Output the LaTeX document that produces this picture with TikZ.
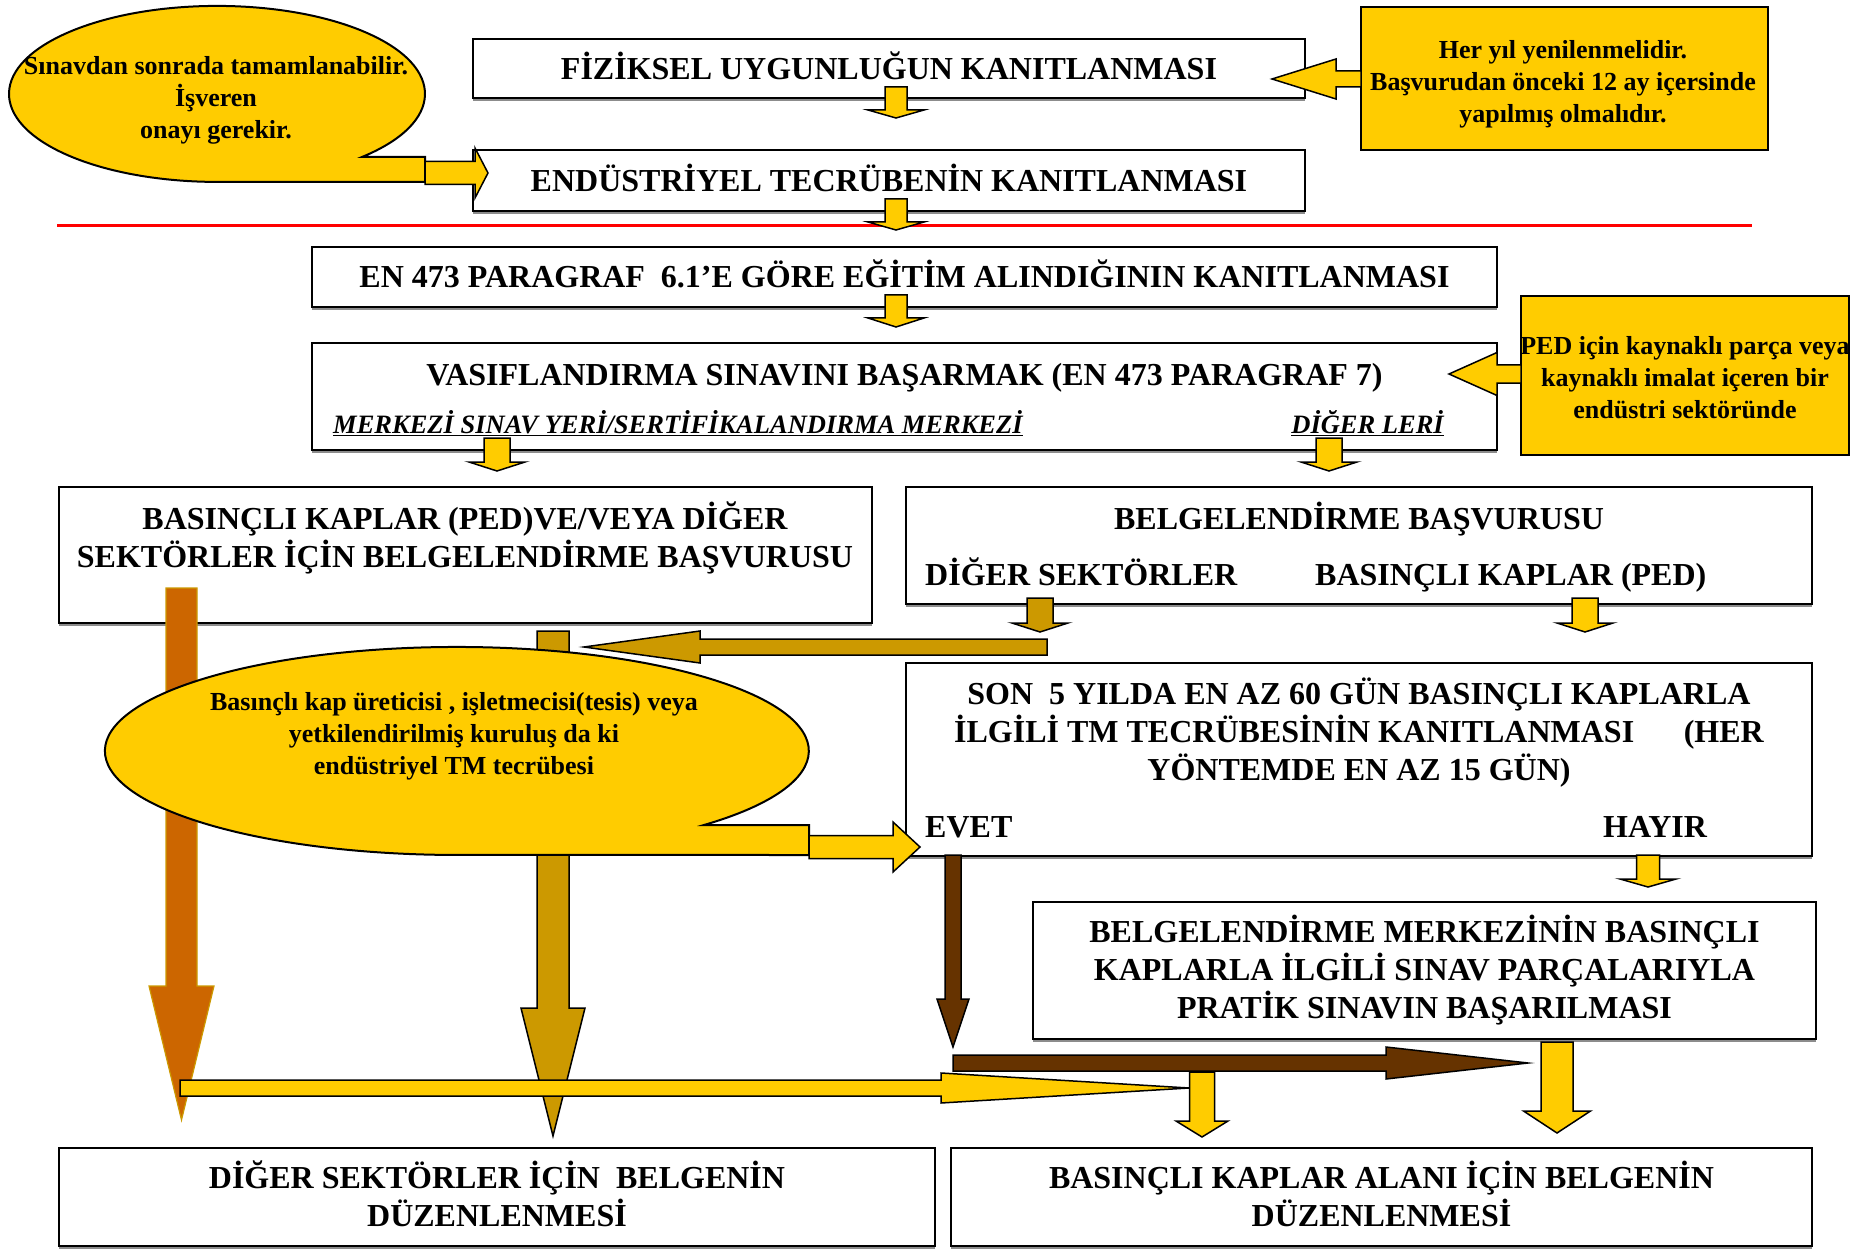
\documentclass[tikz,border=0pt]{standalone}
\usepackage{fontspec}
\setmainfont{Liberation Serif}
\usetikzlibrary{shadows}
\definecolor{gold}{RGB}{255,204,0}
\definecolor{darkgold}{RGB}{204,153,0}
\definecolor{rust}{RGB}{204,102,0}
\definecolor{darkbrown}{RGB}{102,51,0}
\newcommand{\bigtxt}{\fontsize{32}{38}\selectfont\bfseries}
\newcommand{\smalltxt}{\fontsize{26}{32}\selectfont\bfseries}
\newcommand{\ls}{\rule[-.22em]{0pt}{1.1em}}
\tikzset{pics/barrow/.style n args={5}{code={
  \filldraw[fill=#5] (0,-#1) -- ({#3-#4},-#1) -- ({#3-#4},-#2) -- (#3,0)
    -- ({#3-#4},#2) -- ({#3-#4},#1) -- (0,#1) -- cycle;}}}
\begin{document}
\begin{tikzpicture}[x=1pt,y=-1pt,
    box/.style={draw,line width=2pt,fill=white,inner sep=0pt,align=center,font=\bigtxt,
      drop shadow={shadow xshift=0pt,shadow yshift=-3pt,fill=black!45,opacity=1},
      execute at begin node=\ls,execute at end node=\ls},
    note/.style={draw,line width=2pt,fill=gold,inner sep=0pt},
    lbl/.style={inner sep=0pt,align=center,font=\bigtxt,
      execute at begin node=\ls,execute at end node=\ls},
    smlbl/.style={lbl,font=\smalltxt},
    sublbl/.style={inner sep=0pt,font=\fontsize{26.5}{31}\selectfont\bfseries\itshape,
      execute at begin node=\ls,execute at end node=\ls},
    cloud/.style={draw,line width=2pt,fill=gold},
    blk/.style={line width=1.5pt,line join=miter}]
  \useasboundingbox (0,0) rectangle (1856,1249);
  \draw[red,line width=3pt] (57,226) -- (1752,226);

  \node[box,minimum width=832pt,minimum height=59pt] (fiz) at (889,68.5) {FİZİKSEL UYGUNLUĞUN KANITLANMASI};
  \node[box,minimum width=832pt,minimum height=61pt] (endus) at (889,180.5) {ENDÜSTRİYEL TECRÜBENİN KANITLANMASI};
  \node[box,minimum width=1185pt,minimum height=60pt] (en473) at (904.5,277) {EN 473 PARAGRAF\ \ 6.1’E GÖRE EĞİTİM ALINDIĞININ KANITLANMASI};
  \node[box,minimum width=1185pt,minimum height=107pt] (vas) at (904.5,396.5) {};
  \node[lbl] (vastxt) at (904.5,375) {VASIFLANDIRMA SINAVINI BAŞARMAK (EN 473 PARAGRAF 7)};
  \node[sublbl,anchor=west] (merkez) at (333,425) {\underline{MERKEZİ SINAV YERİ/SERTİFİKALANDIRMA MERKEZİ}};
  \node[sublbl,anchor=east] (digerleri) at (1444,425) {\underline{DİĞER LERİ}};
  \node[box,minimum width=813pt,minimum height=136pt] (basvL) at (465.5,555) {};
  \node[lbl] (basvLtxt) at (465,538) {BASINÇLI KAPLAR (PED)VE/VEYA DİĞER\\SEKTÖRLER İÇİN BELGELENDİRME BAŞVURUSU};
  \node[box,minimum width=906pt,minimum height=117pt] (basvR) at (1359,545.5) {};
  \node[lbl] (basvRtxt) at (1359,519) {BELGELENDİRME BAŞVURUSU};
  \node[lbl,anchor=west] (digersek) at (925,575) {DİĞER SEKTÖRLER};
  \node[lbl,anchor=west] (basinc) at (1315,575) {BASINÇLI KAPLAR (PED)};
  \node[box,minimum width=906pt,minimum height=193pt] (son) at (1359,759.5) {};
  \node[lbl] (sontxt) at (1359,732.5) {SON\ \ 5 YILDA EN AZ 60 GÜN BASINÇLI KAPLARLA\\İLGİLİ TM TECRÜBESİNİN KANITLANMASI\hspace{1.3em} (HER\\YÖNTEMDE EN AZ 15 GÜN)};
  \node[lbl,anchor=west] (evet) at (925,827) {EVET};
  \node[lbl,anchor=west] (hayir) at (1603,827) {HAYIR};
  \node[box,minimum width=783pt,minimum height=137pt] (pratik) at (1424.5,970.5) {BELGELENDİRME MERKEZİNİN BASINÇLI\\KAPLARLA İLGİLİ SINAV PARÇALARIYLA\\PRATİK SINAVIN BAŞARILMASI};
  \node[box,minimum width=876pt,minimum height=98pt] (digerB) at (497,1197) {DİĞER SEKTÖRLER İÇİN\ \ BELGENİN\\DÜZENLENMESİ};
  \node[box,minimum width=861pt,minimum height=98pt] (basincB) at (1381.5,1197) {BASINÇLI KAPLAR ALANI İÇİN BELGENİN\\DÜZENLENMESİ};

  \node[note,minimum width=407pt,minimum height=143pt] (yenile) at (1564.5,78.5) {};
  \node[smlbl] (yeniletxt) at (1563,84) {Her yıl yenilenmelidir.\\Başvurudan önceki 12 ay içersinde\\yapılmış olmalıdır.};
  \node[note,minimum width=328pt,minimum height=159pt] (ped) at (1685,375.5) {};
  \node[smlbl] (pedtxt) at (1685,380) {PED için kaynaklı parça veya\\kaynaklı imalat içeren bir\\endüstri sektöründe};

  \pic[blk,rotate=-90] at (896,87) {barrow={11}{28}{31}{8}{gold}};
  \pic[blk,rotate=-90] at (896,199) {barrow={11}{28}{31}{8}{gold}};
  \pic[blk,rotate=-90] at (896,295) {barrow={11}{28}{32}{9}{gold}};
  \pic[blk,rotate=-90] at (497,438) {barrow={13}{28}{33}{9}{gold}};
  \pic[blk,rotate=-90] at (1329,438) {barrow={13}{28}{33}{9}{gold}};
  \pic[blk,rotate=-90] at (1040,598) {barrow={13}{28}{34}{9}{darkgold}};
  \pic[blk,rotate=-90] at (1585,598) {barrow={13}{28}{34}{9}{gold}};
  \pic[blk,rotate=-90] at (1648,855) {barrow={11.5}{28}{32}{8}{gold}};
  \pic[blk,rotate=180] at (1361,79) {barrow={8}{20}{89}{64}{gold}};
  \pic[blk,rotate=180] at (1521,374) {barrow={9}{21.5}{72}{48}{gold}};

  \pic[line width=1.2pt,draw=darkgold,rotate=-90] at (181.5,588) {barrow={15.5}{32.5}{532}{134}{rust}};
  \pic[blk,rotate=-90] at (553,631) {barrow={16}{32}{505}{128}{darkgold}};
  \pic[blk,rotate=180] at (1047,647) {barrow={8}{16}{463}{116}{darkgold}};

  \draw[cloud] (362,157) arc[start angle=45.8,end angle=-270,x radius=208,y radius=88] -- (425,182) -- (425,157) -- cycle;
  \pic[blk] at (425,173) {barrow={11.5}{25}{63}{13}{gold}};
  \node[smlbl] (sinav) at (216,100) {Sınavdan sonrada tamamlanabilir.\\İşveren\\onayı gerekir.};

  \draw[cloud] (704,825) arc[start angle=45.4,end angle=-270,x radius=352,y radius=104] -- (809,855) -- (809,825) -- cycle;
  \pic[blk] at (809,847) {barrow={11.5}{25}{111}{27}{gold}};
  \node[smlbl] (uretici) at (454,736.5) {Basınçlı kap üreticisi , işletmecisi(tesis) veya\\yetkilendirilmiş kuruluş da ki\\endüstriyel TM tecrübesi};

  \pic[blk,rotate=-90] at (953,855) {barrow={8}{16}{192}{48}{darkbrown}};
  \pic[blk] at (180,1088) {barrow={8}{15}{1009}{248}{gold}};
  \pic[blk] at (953,1063) {barrow={8}{16}{575}{142}{darkbrown}};
  \pic[blk,rotate=-90] at (1202,1072) {barrow={12.5}{26}{65}{16}{gold}};
  \pic[blk,rotate=-90] at (1557,1042) {barrow={16}{33.5}{91}{22}{gold}};
\end{tikzpicture}
\end{document}
